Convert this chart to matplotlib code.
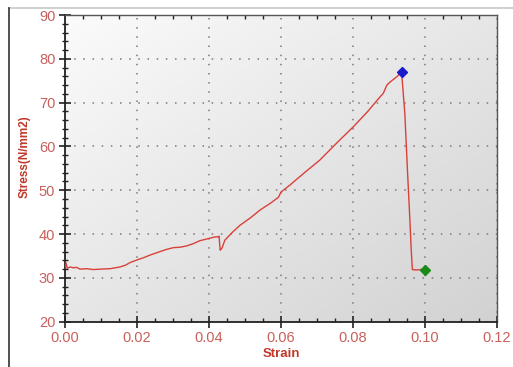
import numpy as np
import matplotlib
matplotlib.use("Agg")
import matplotlib.pyplot as plt
from matplotlib.ticker import MultipleLocator
from matplotlib.lines import Line2D
from matplotlib.colors import LinearSegmentedColormap
from matplotlib import font_manager

# Tensile test record: strain vs stress
strain = [0.0000, 0.0003, 0.0006, 0.0015, 0.0023, 0.0032, 0.0042, 0.0060,
          0.0079, 0.0100, 0.0125, 0.0140, 0.0153, 0.0168, 0.0181, 0.0200,
          0.0218, 0.0236, 0.0250, 0.0264, 0.0282, 0.0301, 0.0320, 0.0338,
          0.0356, 0.0375, 0.0390, 0.0400, 0.0414, 0.0426, 0.0428, 0.0431,
          0.0436, 0.0444, 0.0465, 0.0486, 0.0515, 0.0542, 0.0570, 0.0593,
          0.0600, 0.0625, 0.0665, 0.0708, 0.0755, 0.0801, 0.0840, 0.0875,
          0.0884, 0.0894, 0.0903, 0.0920, 0.0935, 0.0944, 0.0951, 0.0958,
          0.0962, 0.0965, 0.0975, 0.0990, 0.1000]
stress = [32.3, 33.4, 32.2, 32.5, 32.3, 32.4, 32.0, 32.1,
          31.9, 32.0, 32.1, 32.3, 32.5, 32.9, 33.5, 34.1,
          34.6, 35.2, 35.6, 36.0, 36.5, 36.9, 37.0, 37.3,
          37.8, 38.5, 38.8, 39.0, 39.3, 39.4, 39.5, 36.3,
          36.8, 38.6, 40.4, 42.0, 43.7, 45.5, 47.0, 48.4,
          49.6, 51.2, 54.0, 56.9, 60.8, 64.5, 67.9, 71.3,
          72.1, 74.0, 74.7, 75.8, 76.9, 67.5, 55.0, 43.2,
          36.0, 31.9, 31.8, 31.9, 31.8]

peak_point = (0.0935, 76.9)
break_point = (0.1000, 31.8)

x_ticks = [0.00, 0.02, 0.04, 0.06, 0.08, 0.10, 0.12]
y_ticks = [20, 30, 40, 50, 60, 70, 80, 90]

tick_color = "#c8605c"
label_color = "#c0392b"
curve_color = "#d9403a"

plt.rcParams["font.family"] = ["Liberation Sans", "DejaVu Sans"]

# Pick a condensed bold face for the stress label if one is installed
installed = {f.name for f in font_manager.fontManager.ttflist}
if "Liberation Sans Narrow" in installed:
    ylabel_font = dict(family=["Liberation Sans Narrow", "DejaVu Sans"], fontsize=9.5)
elif "DejaVu Sans Condensed" in installed:
    ylabel_font = dict(family=["DejaVu Sans Condensed", "DejaVu Sans"], fontsize=8.5)
else:
    ylabel_font = dict(family=["Liberation Sans", "DejaVu Sans"], fontsize=8.5)

fig = plt.figure(figsize=(5.13, 3.67), dpi=100)
fig.patch.set_facecolor("white")

# Page frame lines around the figure
fig.add_artist(Line2D([9 / 513, 1.0], [1 - 8 / 367, 1 - 8 / 367],
                      color="#c8c8c8", lw=1.2, transform=fig.transFigure))
fig.add_artist(Line2D([9 / 513, 9 / 513], [0.0, 1 - 8 / 367],
                      color="#333333", lw=1.2, transform=fig.transFigure))

ax = fig.add_axes([65 / 513, 1 - 321.7 / 367, 432 / 513, 306.7 / 367])

# Diagonal gradient background: light top-left, gray bottom-right
gx, gy = np.meshgrid(np.linspace(0, 1, 200), np.linspace(0, 1, 200))
g = (gx + gy) / 2.0
bg_cmap = LinearSegmentedColormap.from_list("bg", ["#fbfbfb", "#d2d2d2"])
ax.imshow(g, extent=[0, 1, 0, 1], transform=ax.transAxes, cmap=bg_cmap,
          vmin=0, vmax=1, origin="upper", aspect="auto", zorder=0,
          interpolation="bilinear")

ax.plot(strain, stress, color=curve_color, lw=1.0, zorder=3)
ax.plot([peak_point[0]], [peak_point[1]], marker="D", color="#1a1acc",
        markersize=5.5, zorder=4, linestyle="none")
ax.plot([break_point[0]], [break_point[1]], marker="D", color="#1a8a1a",
        markersize=5.5, zorder=4, linestyle="none")

ax.set_xlim(0, 0.12)
ax.set_ylim(20, 90)
ax.set_xticks(x_ticks)
ax.set_yticks(y_ticks)
ax.set_xticklabels([f"{v:.2f}" for v in x_ticks])
ax.set_yticklabels([str(v) for v in y_ticks])
ax.xaxis.set_minor_locator(MultipleLocator(0.005))
ax.yaxis.set_minor_locator(MultipleLocator(2))

ax.grid(True, which="major", color="#7a7a7a", linestyle=(0, (1, 5)), lw=1.1)

ax.tick_params(axis="both", which="major", direction="inout", length=8,
               width=1.2, color="#222222", labelcolor=tick_color,
               labelsize=10.5, pad=3)
ax.tick_params(axis="both", which="minor", direction="inout", length=5,
               width=1.0, color="#222222")
ax.tick_params(axis="x", which="minor", top=True, direction="in", length=3)

for side in ("left", "bottom"):
    ax.spines[side].set_color("#222222")
    ax.spines[side].set_linewidth(1.3)
for side in ("top", "right"):
    ax.spines[side].set_color("#555555")
    ax.spines[side].set_linewidth(1.0)

ax.set_xlabel("Strain", color=label_color, fontweight="bold", fontsize=9.5,
              labelpad=2)
ax.set_ylabel("Stress(N/mm2)", color=label_color, fontweight="bold",
              **ylabel_font)
ax.yaxis.set_label_coords(-0.08, 0.537)

fig.savefig("out.png", dpi=100, facecolor="white")
